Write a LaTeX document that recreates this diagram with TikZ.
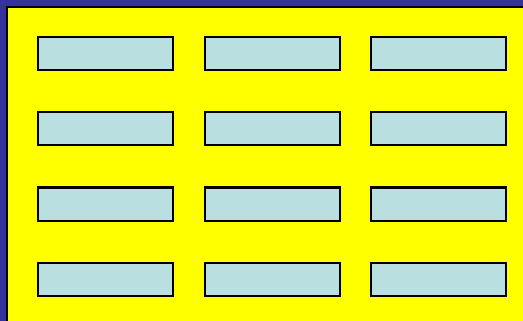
\documentclass[tikz,border=0pt]{standalone}
\definecolor{navy}{RGB}{51,51,153}
\definecolor{bgyellow}{RGB}{255,255,0}
\definecolor{boxfill}{RGB}{185,223,224}
\begin{document}
\begin{tikzpicture}[x=1pt,y=-1pt,
  cell/.style={draw=black,line width=2pt,fill=boxfill,minimum width=135pt,minimum height=33pt,inner sep=0pt,anchor=north west}]
\useasboundingbox (0,0) rectangle (523,321);
\fill[navy] (0,0) rectangle (523,321);
\fill[bgyellow] (7,7) rectangle (523,321);
\draw[black,line width=1.5pt] (7,321) -- (7,7) -- (523,7);
\foreach \r/\y in {1/36.5,2/111.5,3/186.5,4/261.5}{
  \foreach \c/\x in {1/36.5,2/203.5,3/369.5}{
    \node[cell] (b\r\c) at (\x,\y) {};
  }
}
\end{tikzpicture}
\end{document}
